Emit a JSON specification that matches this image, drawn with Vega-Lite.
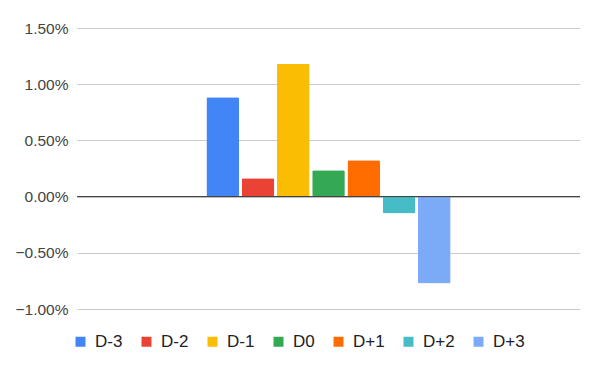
{
  "$schema": "https://vega.github.io/schema/vega-lite/v6.json",
  "autosize": "none",
  "width": 503,
  "height": 281,
  "padding": {"left": 77, "top": 28, "right": 20, "bottom": 62},
  "background": "white",
  "config": {
    "view": {"stroke": null},
    "font": "Liberation Sans"
  },
  "data": {
    "values": [
      {"cat": "A", "series": "D-3", "value": 0.00883},
      {"cat": "A", "series": "D-2", "value": 0.00163},
      {"cat": "A", "series": "D-1", "value": 0.01183},
      {"cat": "A", "series": "D0", "value": 0.00234},
      {"cat": "A", "series": "D+1", "value": 0.00323},
      {"cat": "A", "series": "D+2", "value": -0.00151},
      {"cat": "A", "series": "D+3", "value": -0.00774}
    ]
  },
  "layer": [
    {
      "mark": {"type": "bar", "cornerRadius": 1.5},
      "encoding": {
        "x": {
          "field": "cat",
          "type": "nominal",
          "axis": null,
          "scale": {"paddingInner": 0, "paddingOuter": 0.53}
        },
        "xOffset": {
          "field": "series",
          "type": "nominal",
          "sort": ["D-3", "D-2", "D-1", "D0", "D+1", "D+2", "D+3"],
          "scale": {"paddingInner": 0.075, "paddingOuter": 0}
        },
        "y": {
          "field": "value",
          "type": "quantitative",
          "scale": {"domain": [-0.01, 0.015], "nice": false, "zero": false},
          "axis": {
            "title": null,
            "format": ".2%",
            "values": [-0.01, -0.005, 0, 0.005, 0.01, 0.015],
            "domain": false,
            "ticks": false,
            "labelPadding": 9,
            "labelFontSize": 15.5,
            "labelColor": "#444444",
            "gridColor": "#cccccc",
            "gridWidth": 1
          }
        },
        "color": {
          "field": "series",
          "type": "nominal",
          "sort": ["D-3", "D-2", "D-1", "D0", "D+1", "D+2", "D+3"],
          "scale": {
            "domain": ["D-3", "D-2", "D-1", "D0", "D+1", "D+2", "D+3"],
            "range": ["#4285F4", "#EA4335", "#FBBC04", "#34A853", "#FF6D01", "#46BDC6", "#7BAAF7"]
          },
          "legend": {
            "title": null,
            "orient": "none",
            "direction": "horizontal",
            "legendX": -5,
            "legendY": 305,
            "symbolType": "square",
            "symbolSize": 100,
            "symbolStrokeWidth": 0,
            "labelFontSize": 17,
            "labelColor": "#222222",
            "labelOffset": 6,
            "columnPadding": 15
          }
        }
      }
    },
    {
      "data": {"values": [{"z": 0}]},
      "mark": {"type": "rule", "color": "#333333", "strokeWidth": 1},
      "encoding": {
        "y": {"field": "z", "type": "quantitative"}
      }
    }
  ]
}
